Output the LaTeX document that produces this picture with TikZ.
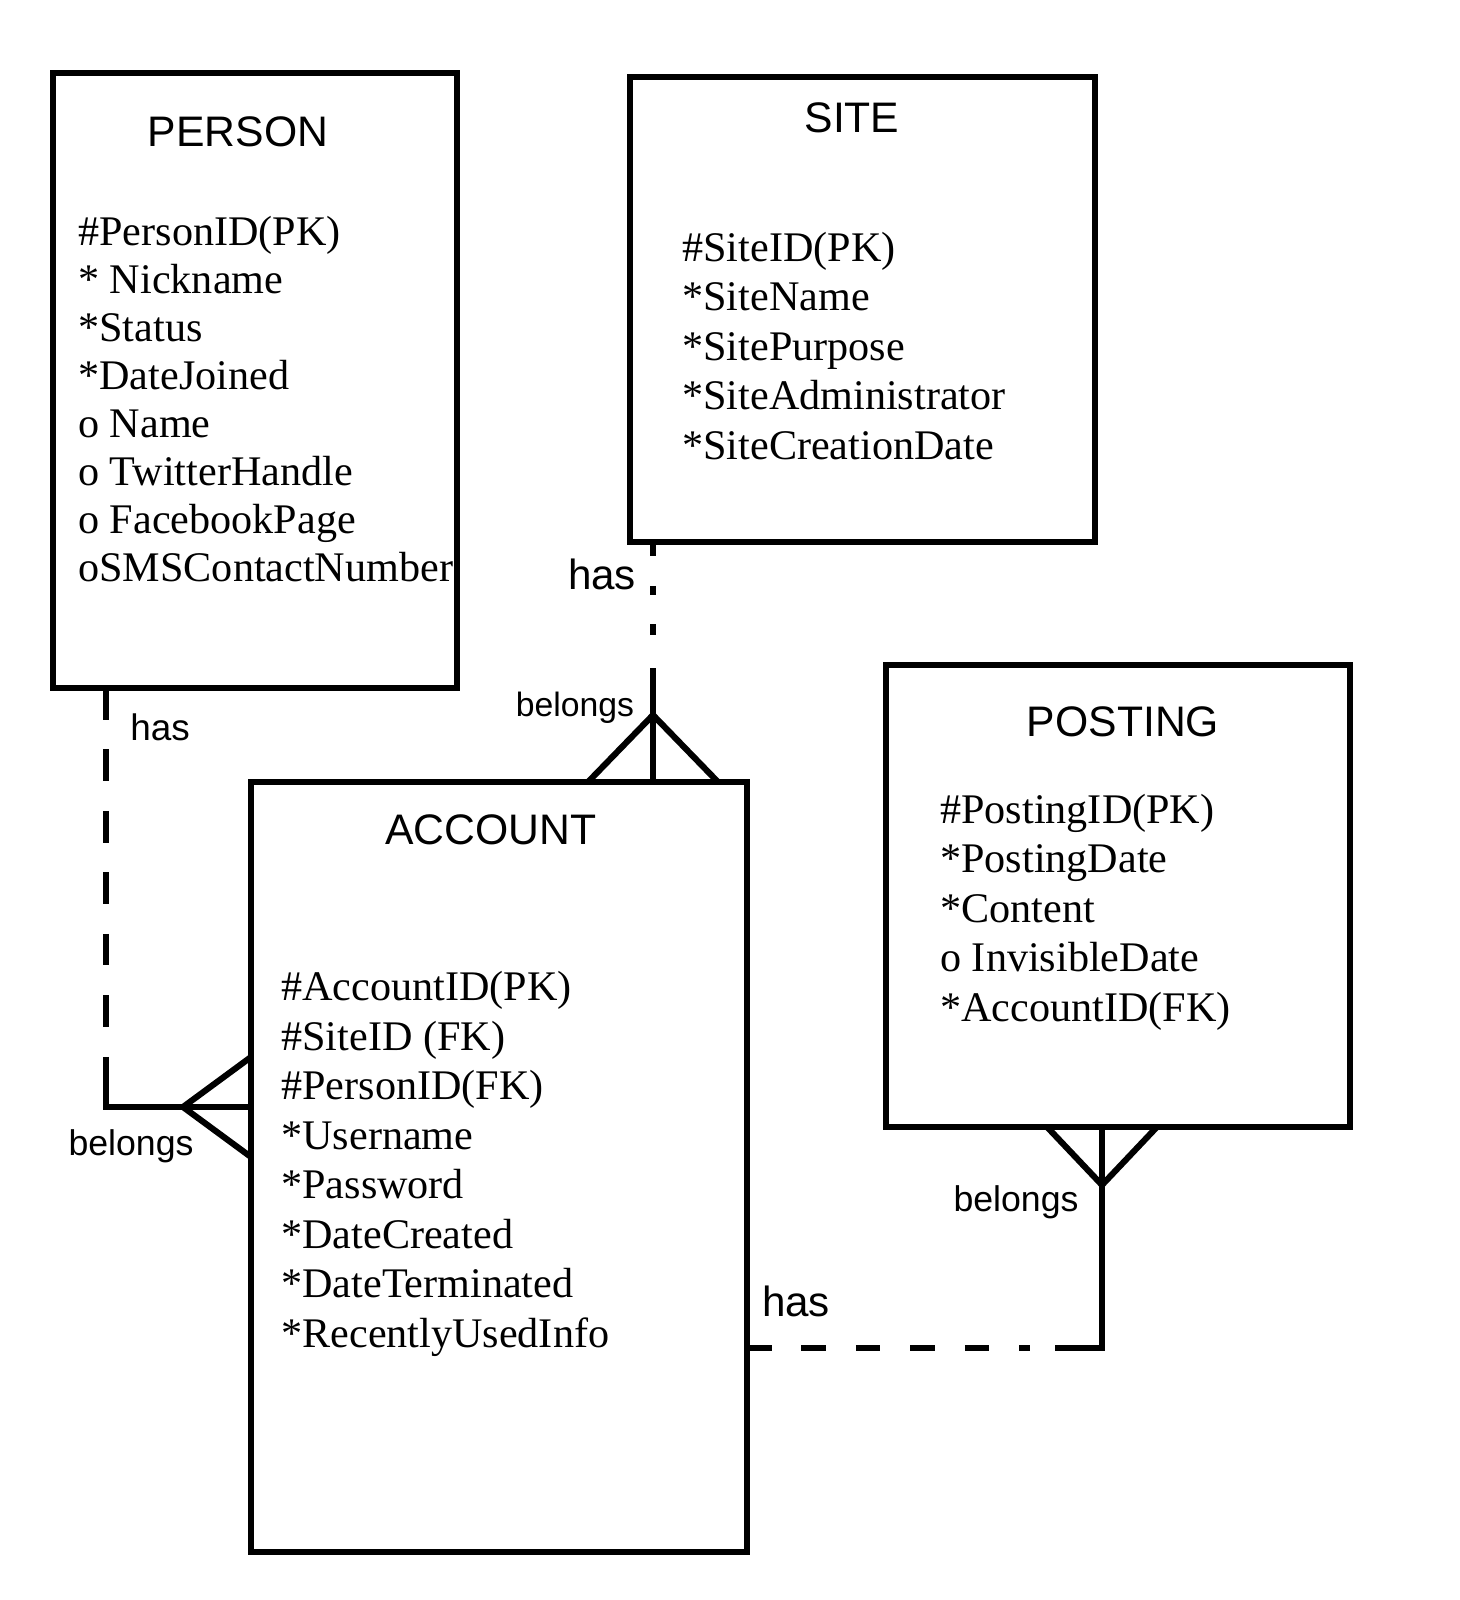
\documentclass[tikz,border=0pt]{standalone}
\usepackage{fontspec}
\setmainfont{Liberation Serif}
\setsansfont{Liberation Sans}
\usetikzlibrary{calc}

\begin{document}
\begin{tikzpicture}[
  x=0.02cm, y=-0.02cm,
  entity/.style={draw, line width=3.7pt, rectangle, anchor=north west, inner sep=0pt, outer sep=0pt},
  title/.style={font=\sffamily\fontsize{24.3}{28}\selectfont},
  attrs/.style={anchor=west, align=left, inner sep=0pt, font=\fontsize{24}{28.2}\selectfont},
  rel/.style={inner sep=0pt, font=\sffamily\fontsize{20.3}{24}\selectfont},
  bigrel/.style={rel, font=\sffamily\fontsize{24}{28}\selectfont},
  link/.style={line width=3.5pt},
  dashlink/.style={link, dash pattern=on 18pt off 17pt},
  crow/.style={line width=3.5pt, line join=round}
]
\useasboundingbox (0,0) rectangle (1460,1600);

\node[entity, minimum width=8.08cm, minimum height=12.3cm] (person) at (53,73) {};
\node[entity, minimum width=9.3cm, minimum height=9.3cm] (site) at (630,77) {};
\node[entity, minimum width=9.28cm, minimum height=9.24cm] (posting) at (886,665) {};
\node[entity, minimum width=9.92cm, minimum height=15.4cm] (account) at (251,782) {};

\node[title] (persontitle) at (238,132) {PERSON};
\node[title] (sitetitle) at (852,118) {SITE};
\node[title] (postingtitle) at (1123,722) {POSTING};
\node[title] (accounttitle) at (491,830) {ACCOUNT};

\begin{scope}
  \clip (person.south west) rectangle (person.north east);
  \node[attrs, font=\fontsize{24}{27.3}\selectfont] (personattrs) at (78,399)
    {\#PersonID(PK)\\* Nickname\\*Status\\*DateJoined\\o Name\\o TwitterHandle\\o FacebookPage\\oSMSContactNumber};
\end{scope}
\node[attrs] (siteattrs) at (682,346)
  {\#SiteID(PK)\\*SiteName\\*SitePurpose\\*SiteAdministrator\\*SiteCreationDate};
\node[attrs] (postingattrs) at (940,912)
  {\#PostingID(PK)\\*PostingDate\\*Content\\o InvisibleDate\\*AccountID(FK)};
\node[attrs] (accountattrs) at (281,1164)
  {\#AccountID(PK)\\\#SiteID (FK)\\\#PersonID(FK)\\*Username\\*Password\\*DateCreated\\*DateTerminated\\*RecentlyUsedInfo};

\node[bigrel] (hassite) at (602,574) {has};
\node[rel, font=\sffamily\fontsize{19.2}{23}\selectfont] (belongssite) at (575,708) {belongs};
\node[rel, font=\sffamily\fontsize{21}{25}\selectfont] (hasperson) at (160,727) {has};
\node[rel] (belongsperson) at (131,1146) {belongs};
\node[rel] (belongsposting) at (1016,1202) {belongs};
\node[bigrel] (hasaccount) at (796,1301) {has};

\coordinate (sitedash) at (653,646);
\coordinate (siteline) at (653,668);
\coordinate (siteapex) at (653,715);
\draw[link, dash pattern=on 8pt off 17pt on 5pt off 17pt on 6pt off 100pt] (site.south -| sitedash) -- (sitedash);
\draw[link] (siteline) -- (siteline |- account.north);
\draw[crow] ([xshift=-1.3cm]siteapex |- account.north) -- (siteapex) -- ([xshift=1.3cm]siteapex |- account.north);

\coordinate (pdash) at (106,1067);
\coordinate (pcorner) at (106,1107);
\coordinate (papex) at (183,1107);
\draw[dashlink] (person.south -| pdash) -- (pdash);
\draw[link] (pdash) -- (pcorner) -- (pcorner -| account.west);
\draw[crow] ([yshift=1cm]papex -| account.west) -- (papex) -- ([yshift=-1cm]papex -| account.west);

\coordinate (adash) at (1030,1348);
\coordinate (aline) at (1055,1348);
\coordinate (acorner) at (1102,1348);
\coordinate (postapex) at (1102,1185);
\draw[link, dash pattern=on 14pt off 17pt] (adash -| account.east) -- (adash);
\draw[link] (aline) -- (acorner) -- (acorner |- posting.south);
\draw[crow] ([xshift=-1.1cm]postapex |- posting.south) -- (postapex) -- ([xshift=1.1cm]postapex |- posting.south);
\end{tikzpicture}
\end{document}
